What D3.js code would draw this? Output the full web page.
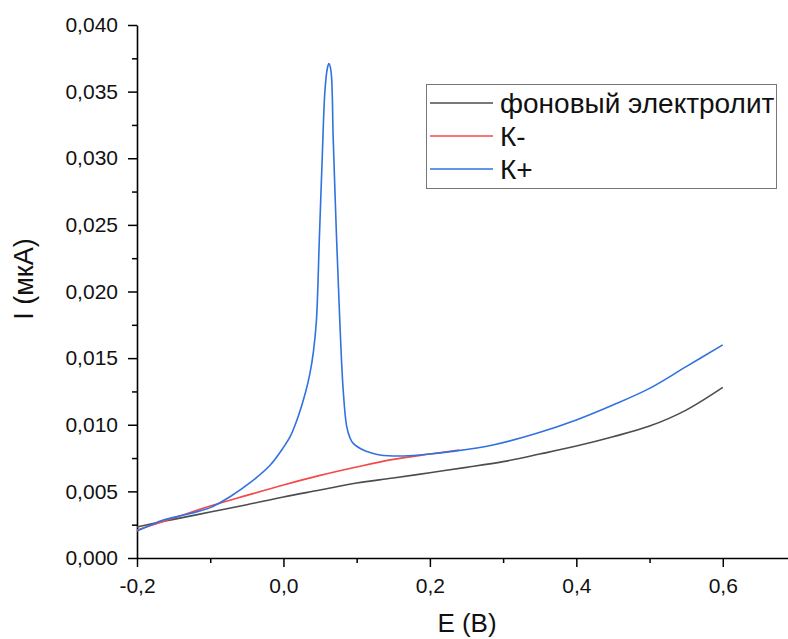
<!DOCTYPE html>
<html>
<head>
<meta charset="utf-8">
<script src="https://cdn.jsdelivr.net/npm/d3@7/dist/d3.min.js"></script>
<style>
  html, body { margin: 0; padding: 0; background: #fff; }
  svg { display: block; font-family: "Liberation Sans", Arial, sans-serif; }
</style>
</head>
<body>
<svg id="chart" width="788" height="639"></svg>
<script>
// Background electrolyte voltammogram
const bgE = [-0.2, -0.17, -0.15, -0.1, -0.05, 0.0, 0.05, 0.1, 0.15, 0.2, 0.25, 0.3, 0.35, 0.4, 0.45, 0.5, 0.55, 0.6];
const bgI = [0.00233, 0.00268, 0.0029, 0.00345, 0.0040, 0.00458, 0.0051, 0.00563, 0.0060, 0.0064, 0.0068, 0.00723, 0.0078, 0.0084, 0.0091, 0.0099, 0.0111, 0.0128];

// К- sample
const kMinusE = [-0.2, -0.15, -0.1, -0.05, 0.0, 0.05, 0.1, 0.15, 0.2, 0.24];
const kMinusI = [0.0021, 0.0030, 0.0039, 0.0047, 0.00548, 0.0062, 0.00683, 0.0074, 0.0078, 0.0081];

// К+ sample with the stripping peak
const kPlusE = [-0.2, -0.18, -0.164, -0.13, -0.1, -0.073, -0.046, -0.018, 0.0, 0.01, 0.02, 0.03, 0.036, 0.041, 0.045, 0.049, 0.053, 0.0567, 0.0598, 0.062, 0.0648, 0.068, 0.0726, 0.0771, 0.0816, 0.0863, 0.091, 0.0953, 0.109, 0.1136, 0.1317, 0.159, 0.186, 0.231, 0.286, 0.346, 0.4, 0.45, 0.5, 0.55, 0.6];
const kPlusI = [0.00203, 0.0025, 0.00285, 0.0033, 0.00378, 0.0046, 0.00563, 0.00698, 0.0083, 0.0092, 0.0106, 0.0124, 0.0138, 0.0155, 0.0178, 0.0239, 0.0301, 0.0351, 0.0367, 0.0371, 0.0366, 0.0314, 0.0239, 0.0176, 0.0126, 0.0099, 0.0090, 0.0086, 0.0081, 0.0080, 0.00773, 0.00765, 0.00773, 0.0080, 0.00848, 0.00936, 0.01036, 0.01148, 0.01273, 0.01436, 0.01599];

// Axis ticks
const xMajor = [-0.2, 0.0, 0.2, 0.4, 0.6];
const xMinor = [-0.1, 0.1, 0.3, 0.5, 0.7];
const yMajor = [0.0, 0.005, 0.01, 0.015, 0.02, 0.025, 0.03, 0.035, 0.04];
const yMinor = [0.0025, 0.0075, 0.0125, 0.0175, 0.0225, 0.0275, 0.0325, 0.0375];

const seriesNames = ["фоновый электролит", "К-", "К+"];
const seriesColors = ["#4d4d4d", "#f54848", "#2f72e0"];

const svg = d3.select("#chart");
svg.append("rect").attr("width", 788).attr("height", 639).attr("fill", "#fff");

const x = d3.scaleLinear().domain([-0.2, 0.7]).range([137, 796]);
const y = d3.scaleLinear().domain([0, 0.04]).range([558, 25]);

const loc = d3.formatLocale({decimal: ",", thousands: " ", grouping: [3], currency: ["", ""], minus: "-"});
const fx = loc.format(".1f");
const fy = loc.format(".3f");

// Minor ticks
svg.append("g").attr("transform", "translate(0,558)")
  .call(d3.axisBottom(x).tickValues(xMinor).tickSize(5).tickSizeOuter(0).tickFormat(""))
  .call(g => g.select(".domain").remove())
  .call(g => g.selectAll("line").attr("stroke-width", 1.5));
svg.append("g").attr("transform", "translate(137,0)")
  .call(d3.axisLeft(y).tickValues(yMinor).tickSize(5).tickSizeOuter(0).tickFormat(""))
  .call(g => g.select(".domain").remove())
  .call(g => g.selectAll("line").attr("stroke-width", 1.5));

// Major axes
const xAxis = svg.append("g").attr("transform", "translate(0,558)")
  .call(d3.axisBottom(x).tickValues(xMajor).tickSize(9).tickSizeOuter(0).tickPadding(11).tickFormat(fx));
const yAxis = svg.append("g").attr("transform", "translate(137,0)")
  .call(d3.axisLeft(y).tickValues(yMajor).tickSize(9).tickSizeOuter(0).tickPadding(10).tickFormat(fy));
[xAxis, yAxis].forEach(a => {
  a.select(".domain").attr("stroke-width", 1.6);
  a.selectAll("line").attr("stroke-width", 1.5);
  a.selectAll("text").attr("font-size", 21).attr("fill", "#111")
    .attr("font-family", "'Liberation Sans', Arial, sans-serif");
});

// Axis titles
svg.append("text").attr("x", 467).attr("y", 632).attr("text-anchor", "middle")
  .attr("font-size", 26).attr("fill", "#111").text("E (B)");
svg.append("text").attr("transform", "translate(33,279) rotate(-90)").attr("text-anchor", "middle")
  .attr("font-size", 27).attr("fill", "#111").text("I (мкА)");

// Curves
const line = d3.line().x(d => x(d[0])).y(d => y(d[1])).curve(d3.curveCatmullRom.alpha(0.5));
const series = [
  d3.zip(bgE, bgI),
  d3.zip(kMinusE, kMinusI),
  d3.zip(kPlusE, kPlusI)
];
series.forEach((pts, i) => {
  svg.append("path").datum(pts).attr("d", line)
    .attr("fill", "none").attr("stroke", seriesColors[i])
    .attr("stroke-width", 1.6).attr("stroke-linejoin", "round");
});

// Legend
const lg = svg.append("g");
lg.append("rect").attr("x", 426.5).attr("y", 84.5).attr("width", 350).attr("height", 104)
  .attr("fill", "#fff").attr("stroke", "#777").attr("stroke-width", 1);
seriesNames.forEach((name, i) => {
  const ly = 103 + i * 33;
  lg.append("line").attr("x1", 430).attr("x2", 493).attr("y1", ly).attr("y2", ly)
    .attr("stroke", seriesColors[i]).attr("stroke-width", 1.6);
  lg.append("text").attr("x", 500).attr("y", ly + 10).attr("font-size", 28)
    .attr("fill", "#111").text(name);
});
</script>
</body>
</html>
